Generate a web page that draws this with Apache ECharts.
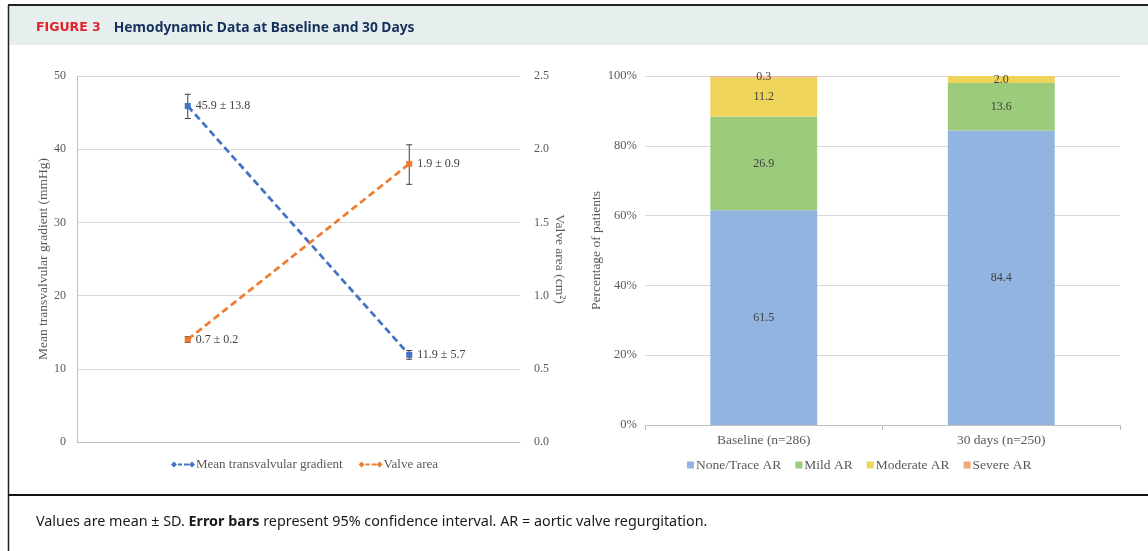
<!DOCTYPE html>
<html>
<head>
<meta charset="utf-8">
<script src="https://cdn.jsdelivr.net/npm/echarts@6/dist/echarts.min.js"></script>
<style>
  html, body { margin: 0; padding: 0; background: #fff; }
  #fig { width: 1148px; height: 551px; }
</style>
</head>
<body>
<div id="fig"></div>
<script>
// Left panel: mean gradient and valve area over time
const timepoints = ['Baseline', '30 days'];
const gradMean = [45.9, 11.9];
const gradSD = [13.8, 5.7];
const gradCILow = [44.2, 11.3];
const gradCIHigh = [47.5, 12.5];
const areaMean = [0.7, 1.9];
const areaSD = [0.2, 0.9];
const areaCILow = [0.68, 1.76];
const areaCIHigh = [0.72, 2.03];
const gradTicks = [0, 10, 20, 30, 40, 50];
const areaTicks = [0.0, 0.5, 1.0, 1.5, 2.0, 2.5];

// Right panel: aortic regurgitation grade distribution (%)
const arGroups = ['Baseline (n=286)', '30 days (n=250)'];
const noneTraceAR = [61.5, 84.4];
const mildAR = [26.9, 13.6];
const moderateAR = [11.2, 2.0];
const severeAR = [0.3, 0];
const pctTicks = [0, 20, 40, 60, 80, 100];

const SERIF = '"Liberation Serif", "Times New Roman", serif';
const SANS = '"Noto Sans", "Open Sans", sans-serif';
const AXIS_TXT = '#595959';
const LBL_TXT = '#404040';
const BLUE = '#4472C4';
const ORANGE = '#ED7D31';

const chart = echarts.init(document.getElementById('fig'), null, { renderer: 'canvas' });

function errorBarSeries(name, yIdx, lows, highs) {
  return {
    name: name,
    type: 'custom',
    xAxisIndex: 0,
    yAxisIndex: yIdx,
    z: 3,
    silent: true,
    data: lows.map((lo, i) => [i, lo, highs[i]]),
    renderItem: function (params, api) {
      const top = api.coord([api.value(0), api.value(2)]);
      const bot = api.coord([api.value(0), api.value(1)]);
      const cap = 3;
      const st = { stroke: '#404040', lineWidth: 1 };
      return {
        type: 'group',
        children: [
          { type: 'line', shape: { x1: top[0], y1: top[1], x2: bot[0], y2: bot[1] }, style: st },
          { type: 'line', shape: { x1: top[0] - cap, y1: top[1], x2: top[0] + cap, y2: top[1] }, style: st },
          { type: 'line', shape: { x1: bot[0] - cap, y1: bot[1], x2: bot[0] + cap, y2: bot[1] }, style: st }
        ]
      };
    }
  };
}

function lineSeries(name, yIdx, means, sds, color) {
  return {
    name: name,
    type: 'line',
    xAxisIndex: 0,
    yAxisIndex: yIdx,
    z: 4,
    data: means,
    symbol: 'rect',
    symbolSize: 6,
    lineStyle: { color: color, width: 2.75, type: [7, 4] },
    itemStyle: { color: color },
    label: {
      show: true,
      position: 'right',
      distance: 5,
      color: LBL_TXT,
      fontFamily: SERIF,
      fontSize: 12,
      formatter: p => means[p.dataIndex].toFixed(1) + ' ± ' + sds[p.dataIndex].toFixed(1)
    }
  };
}

function barSeries(name, values, color) {
  return {
    name: name,
    type: 'bar',
    stack: 'ar',
    xAxisIndex: 1,
    yAxisIndex: 2,
    barWidth: '45%',
    data: values,
    itemStyle: { color: color },
    label: {
      show: true,
      position: 'inside',
      color: LBL_TXT,
      fontFamily: SERIF,
      fontSize: 12,
      formatter: p => (p.value > 0 ? p.value.toFixed(1) : '')
    }
  };
}

// legend glyph: diamond, dashes, diamond
const lineIcon = 'path://M0,4L3,1L6,4L3,7Z M7,3H11V5H7Z M13,3H18V5H13Z M18,4L21,1L24,4L21,7Z';

const option = {
  animation: false,
  backgroundColor: '#ffffff',
  graphic: [
    { type: 'rect', shape: { x: 8, y: 5, width: 1140, height: 40 }, style: { fill: '#e7efee' }, z: -10 },
    { type: 'line', shape: { x1: 8, y1: 5, x2: 1148, y2: 5 }, style: { stroke: '#222', lineWidth: 2 } },
    { type: 'line', shape: { x1: 8.5, y1: 5, x2: 8.5, y2: 551 }, style: { stroke: '#222', lineWidth: 1.5 } },
    { type: 'line', shape: { x1: 8, y1: 495, x2: 1148, y2: 495 }, style: { stroke: '#111', lineWidth: 2 } },
    {
      type: 'text', left: 36, top: 21,
      style: {
        text: '{f|FIGURE 3}{g| }{t|Hemodynamic Data at Baseline and 30 Days}',
        rich: {
          f: { fill: '#e0242c', fontFamily: '"DejaVu Sans", sans-serif', fontWeight: 'bold', fontSize: 12.5, letterSpacing: 1.9, verticalAlign: 'middle' },
          g: { fontSize: 11, width: 13 },
          t: { fill: '#16305c', fontFamily: SANS, fontWeight: 'bold', fontSize: 13.8, verticalAlign: 'middle' }
        }
      }
    },
    {
      type: 'text', left: 36, top: 515,
      style: {
        text: '{a|Values are mean ± SD. }{b|Error bars}{a| represent 95% confidence interval. AR = aortic valve regurgitation.}',
        rich: {
          a: { fill: '#1a1a1a', fontFamily: SANS, fontSize: 14.35 },
          b: { fill: '#1a1a1a', fontFamily: SANS, fontSize: 14.35, fontWeight: 'bold' }
        }
      }
    }
  ],
  legend: [
    {
      left: 166, top: 453,
      itemWidth: 24, itemHeight: 8, itemGap: 16,
      textStyle: { color: AXIS_TXT, fontFamily: SERIF, fontSize: 13, padding: [0, 0, 0, -4] },
      data: [
        { name: 'Mean transvalvular gradient', icon: lineIcon },
        { name: 'Valve area', icon: lineIcon }
      ]
    },
    {
      left: 682, top: 453,
      itemWidth: 7, itemHeight: 7, itemGap: 14,
      textStyle: { color: AXIS_TXT, fontFamily: SERIF, fontSize: 13.5, padding: [0, 0, 0, -3] },
      data: ['None/Trace AR', 'Mild AR', 'Moderate AR', 'Severe AR'].map(n => ({ name: n, icon: 'rect' }))
    }
  ],
  grid: [
    { left: 77, top: 76, width: 443, height: 366 },
    { left: 645, top: 76, width: 475, height: 349 }
  ],
  xAxis: [
    {
      type: 'category', gridIndex: 0, data: timepoints,
      axisLine: { lineStyle: { color: '#bfbfbf' } },
      axisTick: { show: false },
      axisLabel: { show: false }
    },
    {
      type: 'category', gridIndex: 1, data: arGroups,
      axisLine: { lineStyle: { color: '#bfbfbf' } },
      axisTick: { show: true, length: 5, lineStyle: { color: '#bfbfbf' } },
      axisLabel: { color: AXIS_TXT, fontFamily: SERIF, fontSize: 13.5, margin: 8 }
    }
  ],
  yAxis: [
    {
      type: 'value', gridIndex: 0, position: 'left',
      min: gradTicks[0], max: gradTicks[gradTicks.length - 1], interval: 10,
      name: 'Mean transvalvular gradient (mmHg)', nameLocation: 'middle', nameGap: 25,
      nameTextStyle: { color: AXIS_TXT, fontFamily: SERIF, fontSize: 13.5 },
      axisLine: { show: true, lineStyle: { color: '#bfbfbf' } },
      axisTick: { show: false },
      axisLabel: { color: AXIS_TXT, fontFamily: SERIF, fontSize: 12, margin: 11 },
      splitLine: { lineStyle: { color: '#d9d9d9' } }
    },
    {
      type: 'value', gridIndex: 0, position: 'right',
      min: areaTicks[0], max: areaTicks[areaTicks.length - 1], interval: 0.5,
      name: 'Valve area (cm²)', nameLocation: 'middle', nameGap: 33, nameRotate: -90,
      nameTextStyle: { color: AXIS_TXT, fontFamily: SERIF, fontSize: 13.5 },
      axisLine: { show: false },
      axisTick: { show: false },
      axisLabel: { color: AXIS_TXT, fontFamily: SERIF, fontSize: 12, margin: 14, formatter: v => v.toFixed(1) },
      splitLine: { show: false }
    },
    {
      type: 'value', gridIndex: 1,
      min: pctTicks[0], max: pctTicks[pctTicks.length - 1], interval: 20,
      name: 'Percentage of patients', nameLocation: 'middle', nameGap: 40,
      nameTextStyle: { color: AXIS_TXT, fontFamily: SERIF, fontSize: 13.5 },
      axisLine: { show: false },
      axisTick: { show: false },
      axisLabel: { color: AXIS_TXT, fontFamily: SERIF, fontSize: 12.5, margin: 8, formatter: '{value}%' },
      splitLine: { lineStyle: { color: '#d9d9d9' } }
    }
  ],
  series: [
    errorBarSeries('gradCI', 0, gradCILow, gradCIHigh),
    errorBarSeries('areaCI', 1, areaCILow, areaCIHigh),
    lineSeries('Mean transvalvular gradient', 0, gradMean, gradSD, BLUE),
    lineSeries('Valve area', 1, areaMean, areaSD, ORANGE),
    barSeries('None/Trace AR', noneTraceAR, '#92b4e1'),
    barSeries('Mild AR', mildAR, '#9ccb7c'),
    barSeries('Moderate AR', moderateAR, '#efd45a'),
    barSeries('Severe AR', severeAR, '#f0a878')
  ]
};

chart.setOption(option);
</script>
</body>
</html>
